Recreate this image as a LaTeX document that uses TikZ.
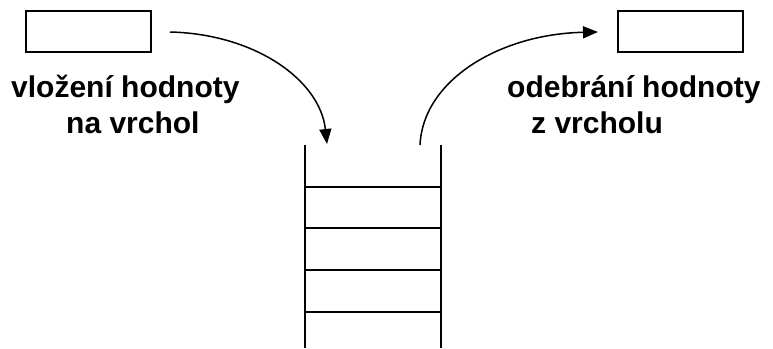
\documentclass[tikz,border=0pt]{standalone}
\usepackage{fontspec}
\setmainfont{Liberation Sans}
\usetikzlibrary{arrows.meta}
\begin{document}
\begin{tikzpicture}[x=1pt,y=-1pt,
  slot/.style={draw,line width=1.5pt,minimum width=125pt,minimum height=41pt,inner sep=0pt,anchor=north west},
  lbl/.style={font=\bfseries\fontsize{30}{36}\selectfont,inner sep=0pt,anchor=base west},
  stk/.style={line width=1.6pt},
  arr/.style={line width=1.5pt,-{Triangle[length=15pt,width=12pt]}}]
\useasboundingbox (0,0) rectangle (773,348);
\node[slot] (inbox) at (25,10) {};
\node[slot] (outbox) at (617,10) {};
\node[lbl] (l1) at (11,97) {vložení hodnoty};
\node[lbl] (l2) at (66,133) {na vrchol};
\node[lbl] (r1) at (507,97) {odebrání hodnoty};
\node[lbl] (r2) at (531,133) {z vrcholu};
\coordinate (sl) at (305,145);
\coordinate (slb) at (305,348);
\coordinate (sr) at (441,145);
\coordinate (srb) at (441,348);
\draw[stk] (sl) -- (slb);
\draw[stk] (sr) -- (srb);
\foreach \y in {187,228,270,312}{\draw[stk] (305,\y) -- (441,\y);}
\coordinate (a1s) at (170,32);
\coordinate (a1e) at (327,144);
\coordinate (a2s) at (420,145);
\coordinate (a2e) at (598,32);
\draw[arr] (a1s) .. controls (255,34) and (320,80) .. (a1e);
\draw[arr] (a2s) .. controls (423,80) and (500,34) .. (a2e);
\end{tikzpicture}
\end{document}
